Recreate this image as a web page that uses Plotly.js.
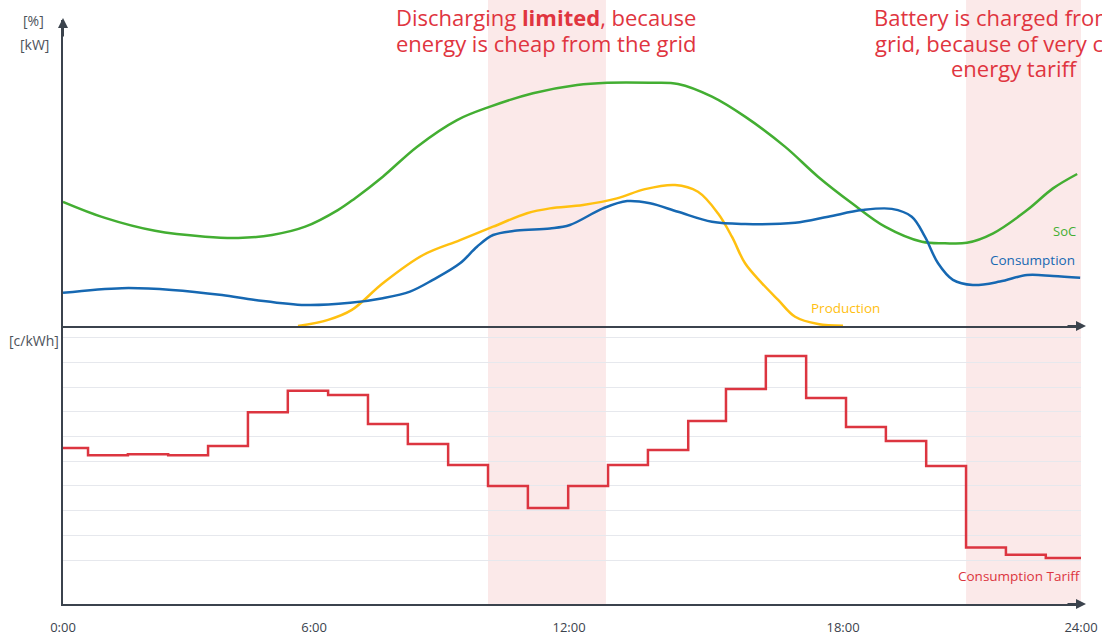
<!DOCTYPE html>
<html>
<head>
<meta charset="utf-8">
<script src="https://cdn.plot.ly/plotly-3.0.1.min.js"></script>
<style>html,body{margin:0;padding:0;background:#fff;}#chart{width:1102px;height:641px;}</style>
</head>
<body>
<div id="chart"></div>
<script>
// ---- data (hours of day) ----
const socHours = [0.00,0.99,2.17,3.35,4.13,4.93,5.71,6.48,6.88,7.54,8.35,9.29,10.07,11.08,12.12,12.83,13.84,14.50,15.30,16.08,17.02,17.80,18.60,19.38,20.25,20.79,21.31,21.93,22.73,23.34,23.91];
const socValues = [50.9,44.3,39.0,36.6,36.1,37.3,40.7,47.5,52.3,61.2,73.5,84.4,89.9,95.4,98.8,99.7,99.7,99.2,94.0,85.8,73.5,61.2,50.3,40.7,34.5,33.9,34.1,38.0,47.5,56.4,62.3];

const consHours = [0,1.39,2.57,3.75,4.53,5.71,6.77,7.54,8.18,8.72,9.36,9.76,10.14,10.70,11.48,11.95,12.73,13.30,13.84,14.50,15.30,16.08,17.26,18.04,18.84,19.54,20.01,20.32,20.63,20.98,21.45,22.09,22.73,23.34,23.98];
const consValues = [13.6,15.5,14.8,12.7,10.7,8.6,9.5,11.4,14.1,18.9,25.7,32.5,37.3,39.1,40.0,41.4,48.2,51.2,50.3,46.8,42.7,41.8,42.3,44.8,47.5,48.0,44.8,36.6,25.7,18.9,16.8,18.2,20.9,20.5,19.8];

const prodHours = [5.54,6.25,6.81,7.54,8.49,9.36,10.14,10.94,11.48,12.26,13.06,13.72,14.43,14.97,15.44,15.77,16.08,16.48,16.86,17.26,17.80,18.39];
const prodValues = [0,2.5,6.6,17.5,29.1,35.2,40.7,46.2,48.2,49.6,52.3,56.1,57.8,55.0,46.2,36.6,25.7,17.5,10.7,3.8,0.8,0.1];

const tariffHours = [0,0.59,1.53,2.48,3.42,4.36,5.30,6.25,7.19,8.13,9.08,10.02,10.96,11.91,12.85,13.79,14.74,15.63,16.57,17.52,18.46,19.40,20.35,21.29,22.23,23.17,24];
const tariffValues = [6.53,6.24,6.28,6.24,6.62,7.98,8.85,8.68,7.51,6.70,5.85,5.00,4.11,5.00,5.85,6.45,7.63,8.92,10.26,8.56,7.38,6.82,5.81,2.51,2.21,2.08,2.08];

const tickHours = [0,5.92,11.93,18.39,24];
const tickLabels = ['0:00','6:00','12:00','18:00','24:00'];
const gridLevels = [2,3,4,5,6,7,8,9,10,11];
const shadeRanges = [[10.02,12.80],[21.29,24.0]];

const note1Lines = ['Discharging <b>limited</b>, because', 'energy is cheap from the grid'];
const note2Lines = ['Battery is charged from the', 'grid, because of very cheap', 'energy tariff'];

// ---- style ----
const GREEN = '#43ae32', BLUE = '#1668b2', YELLOW = '#ffc010', RED = '#dc3540', NOTE = '#e0353f';
const AX = '#3b434d';
const FONT = 'Open Sans, Noto Sans, sans-serif';

const traces = [
  {x: socHours, y: socValues, xaxis:'x2', yaxis:'y', mode:'lines', line:{color:GREEN, width:2.5, shape:'spline', smoothing:1}, hoverinfo:'skip', name:'SoC'},
  {x: prodHours, y: prodValues, xaxis:'x2', yaxis:'y', mode:'lines', line:{color:YELLOW, width:2.5, shape:'spline', smoothing:1}, hoverinfo:'skip', name:'Production'},
  {x: consHours, y: consValues, xaxis:'x2', yaxis:'y', mode:'lines', line:{color:BLUE, width:2.5, shape:'spline', smoothing:1}, hoverinfo:'skip', name:'Consumption'},
  {x: tariffHours, y: tariffValues, xaxis:'x', yaxis:'y2', mode:'lines', line:{color:RED, width:2.5, shape:'hv'}, hoverinfo:'skip', name:'Consumption Tariff'}
];

const H = 584; // plot height in px (t=20, b=37)
const py = p => (604 - p) / H;      // pixel y -> paper y
const px = p => (p - 63) / 1018;    // pixel x -> paper x
const split = py(326);

const shapes = shadeRanges.map(r => ({
  type:'rect', xref:'x', yref:'paper', x0:r[0], x1:r[1], y0:0, y1:py(0),
  fillcolor:'#fbe9e9', line:{width:0}, layer:'below'
}));

function label(text, x, y, color, size, xanchor, extra) {
  return Object.assign({text:text, xref:'paper', yref:'paper', x:x, y:y, showarrow:false,
    xanchor:xanchor || 'center', yanchor:'middle', font:{family:FONT, size:size, color:color}}, extra || {});
}
function arrow(x, y, ax, ay) {
  return {text:'', xref:'paper', yref:'paper', x:x, y:y, ax:ax, ay:ay, showarrow:true,
    arrowhead:2, arrowsize:1, arrowwidth:2, arrowcolor:AX};
}

const lineCenters = [17, 42.5, 68];
const annotations = [];
note1Lines.forEach((t, i) => annotations.push(label(t, px(546), py(lineCenters[i]), NOTE, 22, 'center')));
note2Lines.forEach((t, i) => annotations.push(label(t, px(1014), py(lineCenters[i]), NOTE, 22, 'center')));
annotations.push(
  label('[%]', px(33), py(20), '#4d535b', 14, 'center'),
  label('[kW]', px(34.5), py(44), '#4d535b', 14, 'center'),
  label('[c/kWh]', px(34), py(341), '#4d535b', 14, 'center'),
  label('SoC', px(1078), py(231), GREEN, 13, 'right'),
  label('Consumption', px(1077), py(259.5), BLUE, 13.5, 'right'),
  label('Production', px(809), py(307.5), YELLOW, 13.5, 'left'),
  label('Consumption Tariff', px(1082), py(575.5), RED, 13.5, 'right'),
  arrow(0, py(18), 0, 20),
  arrow(px(1086), split, -20, 0),
  arrow(px(1086), 0, -20, 0)
);

const layout = {
  width:1102, height:641,
  margin:{l:63, r:21, t:20, b:37, pad:0},
  paper_bgcolor:'#ffffff', plot_bgcolor:'rgba(0,0,0,0)',
  showlegend:false,
  font:{family:FONT, size:13, color:AX},
  xaxis:{anchor:'y2', range:[0,24], showline:true, linecolor:AX, linewidth:2, showgrid:false, zeroline:false,
    tickvals:tickHours, ticktext:tickLabels, ticks:'', ticklabelstandoff:10, tickfont:{family:FONT, size:13, color:AX}, fixedrange:true},
  xaxis2:{anchor:'y', matches:'x', range:[0,24], showline:true, linecolor:AX, linewidth:2, showgrid:false, zeroline:false,
    showticklabels:false, ticks:'', fixedrange:true},
  yaxis:{domain:[split,1], range:[0,125.41], showline:true, linecolor:AX, linewidth:2, showgrid:false, zeroline:false,
    showticklabels:false, ticks:'', fixedrange:true},
  yaxis2:{domain:[0,split], range:[0.219,11.474], showline:true, linecolor:AX, linewidth:2, showgrid:true, gridcolor:'#e6e8ed', gridwidth:1,
    zeroline:false, tickvals:gridLevels, showticklabels:false, ticks:'', fixedrange:true},
  shapes:shapes,
  annotations:annotations
};

Plotly.newPlot('chart', traces, layout, {staticPlot:true, displayModeBar:false});
</script>
</body>
</html>
